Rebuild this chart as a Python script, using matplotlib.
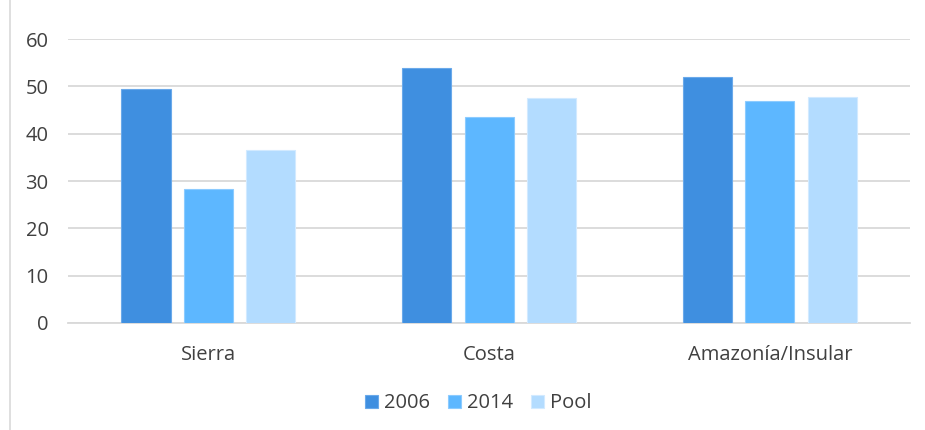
import numpy as np
import matplotlib
matplotlib.use("Agg")
import matplotlib.pyplot as plt

plt.rcParams['font.family'] = ['Open Sans', 'DejaVu Sans']

regions = ['Sierra', 'Costa', 'Amazonía/Insular']
series = ['2006', '2014', 'Pool']
v2006 = [49.4, 53.8, 51.9]
v2014 = [28.3, 43.6, 46.9]
vpool = [36.5, 47.6, 47.8]
colors = ['#3F8FE0', '#5DB7FF', '#B3DCFF']
edges = ['#6AA9EA', '#8CCBFF', '#D2EAFF']

fig = plt.figure(figsize=(9.25, 4.3), dpi=100)
ax = fig.add_axes([0.0735, 0.249, 0.9105, 0.66])

x = np.arange(len(regions))
w = 0.175
step = 0.222
for i, (vals, lab) in enumerate(zip([v2006, v2014, vpool], series)):
    ax.bar(x + (i - 1) * step, vals, w, color=colors[i], edgecolor=edges[i],
           linewidth=0.8, label=lab, zorder=3)

ax.set_xlim(-0.5, 2.5)
ax.set_ylim(0, 60)
ax.set_yticks(range(0, 61, 10))
ax.set_xticks(x)
ax.set_xticklabels(regions)
ax.grid(axis='y', color='#D9D9D9', linewidth=1.3, zorder=0)
for s in ['top', 'right', 'left']:
    ax.spines[s].set_visible(False)
ax.spines['bottom'].set_color('#D9D9D9')
ax.spines['bottom'].set_linewidth(1.3)
ax.tick_params(axis='both', length=0, labelsize=14.5, colors='#404040')
ax.tick_params(axis='y', pad=14)
ax.tick_params(axis='x', pad=16)

leg = fig.legend(loc='center', bbox_to_anchor=(0.517, 0.062), ncol=3, frameon=False,
                 fontsize=14.5, handlelength=0.65, handleheight=0.65,
                 handletextpad=0.3, columnspacing=0.9)
for t in leg.get_texts():
    t.set_color('#404040')

# chart border on the left
fig.add_artist(plt.Line2D([0.011, 0.011], [0.0, 1.0], color='#D9D9D9', linewidth=1.2,
                          transform=fig.transFigure))

fig.savefig('out.png', dpi=100)
